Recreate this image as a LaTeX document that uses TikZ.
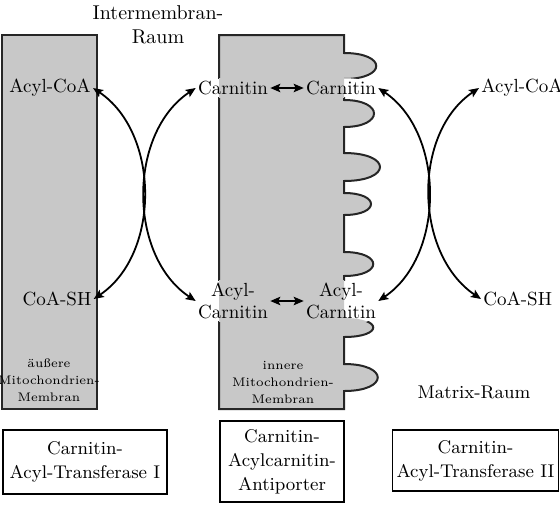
\documentclass[tikz,border=0pt]{standalone}
\usepackage[dvipsnames,svgnames]{xcolor}
\usepackage{tikz}
\usetikzlibrary{
  calc,
  positioning,
  arrows.meta,
  backgrounds
}
\definecolor{membrangray}{RGB}{200,200,200}

\begin{document}
\begin{tikzpicture}[x=0.5pt,y=-0.5pt,>={Stealth[length=5pt,width=4.2pt,inset=1pt]}]
  \tikzset{
    membran/.style={fill=membrangray,draw=black!85,line width=1pt},
    lbl/.style={inner sep=1pt,align=center,font=\fontsize{9.5}{11}\selectfont},
    memtext/.style={inner sep=0.5pt,align=center,font=\fontsize{6.2}{8.5}\selectfont},
    raum/.style={inner sep=1pt,align=center,font=\fontsize{10}{12}\selectfont},
    enzym/.style={draw,line width=0.9pt,align=center,inner sep=2pt,
      font=\fontsize{9.2}{12}\selectfont},
    exch/.style={<->,line width=0.9pt},
  }
  \useasboundingbox (0,0) rectangle (560,504);

  \node[raum] (imr) at (158,25) {Intermembran-\\Raum};
  \node[raum,font=\fontsize{9.2}{11}\selectfont] (mxr) at (474,392) {Matrix-Raum};

  \node[lbl] (acoaL)  at (50,88)  {Acyl-CoA};
  \node[lbl] (coashL) at (57,299) {CoA-SH};
  \node[lbl] (carnL)  at (233,88) {Carnitin};
  \node[lbl] (carnR)  at (341,88) {Carnitin};
  \node[lbl] (acarnL) at (233,301) {Acyl-\\Carnitin};
  \node[lbl] (acarnR) at (341,301) {Acyl-\\Carnitin};
  \node[lbl,anchor=west] (acoaR)  at (479,88)  {Acyl-CoA};
  \node[lbl,anchor=west] (coashR) at (481,299) {CoA-SH};

  \node[memtext] (aussen) at (49,380) {äußere\\Mitochondrien-\\Membran};
  \node[memtext] (innen)  at (283,382) {innere\\Mitochondrien-\\Membran};

  \node[enzym,minimum width=82pt,minimum height=32pt] (cat1) at (85,462)
    {Carnitin-\\Acyl-Transferase I};
  \node[enzym,minimum width=62pt,minimum height=40.5pt] (cact) at (282,461.5)
    {Carnitin-\\Acylcarnitin-\\Antiporter};
  \node[enzym,minimum width=82.5pt,minimum height=30.5pt] (cat2) at (475.5,460.5)
    {Carnitin-\\Acyl-Transferase II};

  \begin{scope}[on background layer]
    \draw[membran] (2,35) rectangle (97,409);
    \path[membran,save path=\innermem] (219,35) -- (344,35)
      \foreach \ya/\yb/\cx in {53/79/387,100/127/384,153/181/392,193/215/380,
                               252/276/383,318/337/383,364/391/389} {
        -- (344,\ya) .. controls (\cx,\ya) and (\cx,\yb) .. (344,\yb)
      } -- (344,409) -- (219,409) -- cycle;
    \foreach \n in {carnL,carnR,acarnL,acarnR} {
      \begin{scope}
        \clip (\n.south west) rectangle (\n.north east);
        \fill[white] (\n.south west) rectangle (\n.north east);
        \fill[membrangray,use path=\innermem];
      \end{scope}
    }
  \end{scope}

  \draw[exch] (carnL) -- (carnR);
  \draw[exch] (acarnL) -- (acarnR);

  \draw[exch] (acoaL.east) .. controls +(67,45) and +(67,-45) .. (coashL.east);
  \draw[exch] (carnL.west) .. controls +(-68,45) and +(-68,-45) .. (acarnL.west);
  \draw[exch] (carnR.east) .. controls +(67,45) and +(67,-45) .. (acarnR.east);
  \draw[exch] (acoaR.west) .. controls +(-67,45) and +(-67,-45) .. (coashR.west);

\end{tikzpicture}
\end{document}
